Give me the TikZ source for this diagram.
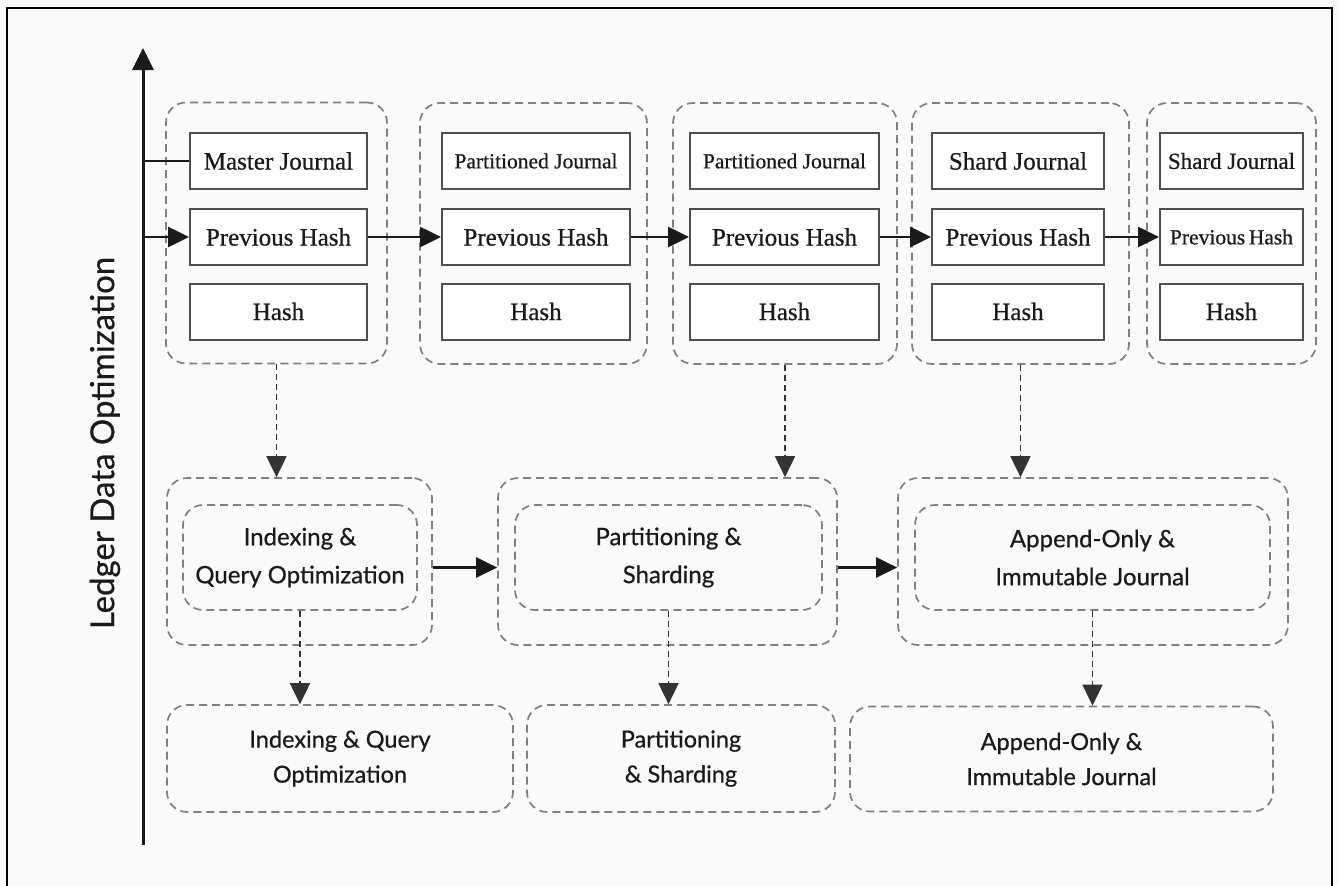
\documentclass[tikz,border=0pt]{standalone}
\usepackage{fontspec}
\setmainfont[FakeBold=0.6]{Liberation Serif}
\newfontfamily\labelfont[FakeBold=0.6]{Lato}
\usetikzlibrary{arrows.meta}

\definecolor{pagebg}{HTML}{FAFAFA}
\definecolor{boxline}{HTML}{505050}
\definecolor{dashline}{HTML}{808080}
\definecolor{inkcol}{HTML}{1A1A1A}

\tikzset{
  cell/.style={draw=boxline, line width=2pt, fill=white, minimum height=56pt,
    inner sep=0pt, text=inkcol, font=\fontsize{25}{25}\selectfont},
  group/.style={draw=dashline, line width=1.7pt, dash pattern=on 8pt off 5pt,
    rounded corners=20pt, inner sep=0pt},
  stage/.style={group, align=center, text=inkcol,
    font=\labelfont\fontsize{24}{38}\selectfont},
  result/.style={group, align=center, text=inkcol,
    font=\labelfont\fontsize{23.5}{35}\selectfont},
  flow/.style={draw=inkcol, line width=2.6pt, -{Triangle[length=21pt,width=20pt]}},
  feed/.style={draw=black!80, line width=1.8pt, dash pattern=on 6pt off 4pt,
    -{Triangle[length=21pt,width=20pt]}},
}

\begin{document}
\begin{tikzpicture}[x=1pt,y=-1pt]
  % page and frame
  \useasboundingbox (0,0) rectangle (1339,886);
  \fill[pagebg] (0,0) rectangle (1339,886);
  \draw[black, line width=2pt] (7,890) -- (7,8) -- (1332,8) -- (1332,890);

  % vertical axis
  \coordinate (axisbot) at (143,845);
  \coordinate (axistop) at (143,48);
  \draw[draw=inkcol, line width=3pt, -{Triangle[length=22pt,width=21pt]}] (axisbot) -- (axistop);
  \node[rotate=90, text=inkcol, font=\labelfont\fontsize{33}{33}\selectfont] (axislabel)
    at (105,443) {Ledger Data Optimization};

  % journal blocks
  \node[group, minimum width=221pt, minimum height=261pt] (g1) at (276.5,233) {};
  \node[group, minimum width=227pt, minimum height=261pt] (g2) at (533.5,233.5) {};
  \node[group, minimum width=224pt, minimum height=261pt] (g3) at (785,233.5) {};
  \node[group, minimum width=217pt, minimum height=261pt] (g4) at (1020.5,233.5) {};
  \node[group, minimum width=169pt, minimum height=261pt] (g5) at (1231.5,233.5) {};

  \node[cell, minimum width=177pt] (jn1) at (278.5,161) {Master Journal};
  \node[cell, minimum width=177pt] (ph1) at (278.5,237) {Previous Hash};
  \node[cell, minimum width=177pt] (h1)  at (278.5,311.5) {Hash};

  \node[cell, minimum width=188pt, font=\fontsize{21.5}{22}\selectfont] (jn2) at (536,161) {Partitioned Journal};
  \node[cell, minimum width=188pt] (ph2) at (536,237) {Previous Hash};
  \node[cell, minimum width=188pt] (h2)  at (536,311.5) {Hash};

  \node[cell, minimum width=189pt, font=\fontsize{21.5}{22}\selectfont] (jn3) at (784.5,161) {Partitioned Journal};
  \node[cell, minimum width=189pt] (ph3) at (784.5,237) {Previous Hash};
  \node[cell, minimum width=189pt] (h3)  at (784.5,311.5) {Hash};

  \node[cell, minimum width=172pt] (jn4) at (1018,161) {Shard Journal};
  \node[cell, minimum width=172pt] (ph4) at (1018,237) {Previous Hash};
  \node[cell, minimum width=172pt] (h4)  at (1018,311.5) {Hash};

  \node[cell, minimum width=143pt, font=\fontsize{23}{23}\selectfont] (jn5) at (1231.5,161) {Shard Journal};
  \node[cell, minimum width=143pt, font=\fontsize{21.5}{22}\selectfont] (ph5) at (1231.5,237) {Previous\,Hash};
  \node[cell, minimum width=143pt] (h5)  at (1231.5,311.5) {Hash};

  % axis links into the first block
  \draw[draw=inkcol, line width=2.4pt] (jn1.west -| axisbot) -- (jn1.west);
  \draw[flow] (ph1.west -| axisbot) -- (ph1.west);

  % hash chain
  \draw[flow] (ph1) -- (ph2);
  \draw[flow] (ph2) -- (ph3);
  \draw[flow] (ph3) -- (ph4);
  \draw[flow] (ph4) -- (ph5);

  % optimisation stages
  \node[group, minimum width=265pt, minimum height=167pt] (m1o) at (299.5,561.5) {};
  \node[group, minimum width=339pt, minimum height=167pt] (m2o) at (667.5,561.5) {};
  \node[group, minimum width=390pt, minimum height=167pt] (m3o) at (1093,561.5) {};

  \node[stage, minimum width=234pt, minimum height=105pt] (m1i) at (300,557.5)
    {Indexing \&\\Query Optimization};
  \node[stage, minimum width=307pt, minimum height=105pt] (m2i) at (668.5,557.5)
    {Partitioning \&\\Sharding};
  \node[stage, minimum width=355pt, minimum height=105pt] (m3i) at (1092.5,557.5)
    {Append-Only \&\\Immutable Journal};

  \draw[flow] ([yshift=-6pt]m1o.east) -- ([yshift=-6pt]m2o.west);
  \draw[flow] ([yshift=-6pt]m2o.east) -- ([yshift=-6pt]m3o.west);

  % outcomes
  \node[result, minimum width=346pt, minimum height=107pt] (b1) at (340,758.5)
    {Indexing \& Query\\Optimization};
  \node[result, minimum width=308pt, minimum height=107pt] (b2) at (681,758.5)
    {Partitioning\\\& Sharding};
  \node[result, minimum width=423pt, minimum height=105pt] (b3) at (1061.5,759)
    {Append-Only \&\\Immutable Journal};

  % dashed feeds between rows
  \draw[feed] (g1.south) -- (g1.south |- m1o.north);
  \draw[feed] (g3.south) -- (g3.south |- m2o.north);
  \draw[feed] (g4.south) -- (g4.south |- m3o.north);

  \draw[feed] (m1i.south) -- (m1i.south |- b1.north);
  \draw[feed] (m2i.south) -- (m2i.south |- b2.north);
  \draw[feed] (m3i.south) -- (m3i.south |- b3.north);
\end{tikzpicture}
\end{document}
